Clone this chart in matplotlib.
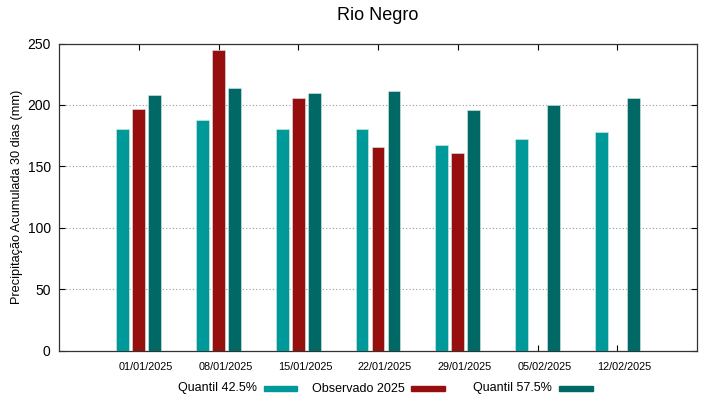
import matplotlib
matplotlib.use("Agg")
import matplotlib.pyplot as plt
from matplotlib.patches import Rectangle
import numpy as np

plt.rcParams['font.family'] = ['Liberation Sans', 'DejaVu Sans']

dates = ["01/01/2025", "08/01/2025", "15/01/2025", "22/01/2025",
         "29/01/2025", "05/02/2025", "12/02/2025"]
q425 = [180.0, 187.9, 180.0, 180.6, 167.0, 172.5, 178.1]
obs2025 = [196.3, 244.3, 205.5, 165.7, 160.5, np.nan, np.nan]
q575 = [208.0, 213.9, 209.6, 211.2, 195.8, 200.1, 205.5]
series_labels = ["Quantil 42.5%", "Observado 2025", "Quantil 57.5%"]
colors = ["#009999", "#960e0e", "#006865"]

W, H = 719, 399
fig = plt.figure(figsize=(W / 100, H / 100), dpi=100)
ax = fig.add_axes([59 / W, (H - 350.5) / H, (697 - 59) / W, 307 / H])

x = np.arange(len(dates))
offs = [-0.2, 0.0, 0.2]
for vals, off, c in zip([q425, obs2025, q575], offs, colors):
    ax.bar(x + off, vals, width=0.16, color=c, edgecolor='#d8eeee', linewidth=0.4, zorder=3)

ax.set_xlim(-1, 7)
ax.set_ylim(0, 250)
ax.set_yticks([0, 50, 100, 150, 200, 250])
ax.set_xticks(x)
ax.set_xticklabels([])
ax.set_xticks(x + 0.088, minor=True)
ax.set_xticklabels(dates, minor=True, fontsize=7.8)
ax.tick_params(axis='y', labelsize=10, direction='in', length=4, right=True, pad=6)
ax.tick_params(axis='x', which='major', direction='in', length=4, top=True)
ax.tick_params(axis='x', which='minor', length=0, pad=8.5)
ax.grid(axis='y', linestyle=(0, (1, 2)), color='#999999', linewidth=0.8, zorder=0)
for s in ax.spines.values():
    s.set_color('#333333')
    s.set_linewidth(0.9)

ax.set_ylabel("Precipitação Acumulada 30 dias (mm)", fontsize=9.2, labelpad=3)
fig.text(378 / W, 1 - 16 / H, "Rio Negro", ha='center', va='center', fontsize=13)

# legend
ly = 388.5
sample_lefts = [263.6, 411.4, 559.0]
for lab, c, sx in zip(series_labels, colors, sample_lefts):
    fig.text((sx - 7) / W, 1 - ly / H, lab, ha='right', va='center', fontsize=9)
    fig.patches.append(Rectangle((sx / W, 1 - (ly + 2.2) / H), 33.5 / W, 4.4 / H,
                                 transform=fig.transFigure, color=c, figure=fig))

fig.savefig("out.png", dpi=100)
